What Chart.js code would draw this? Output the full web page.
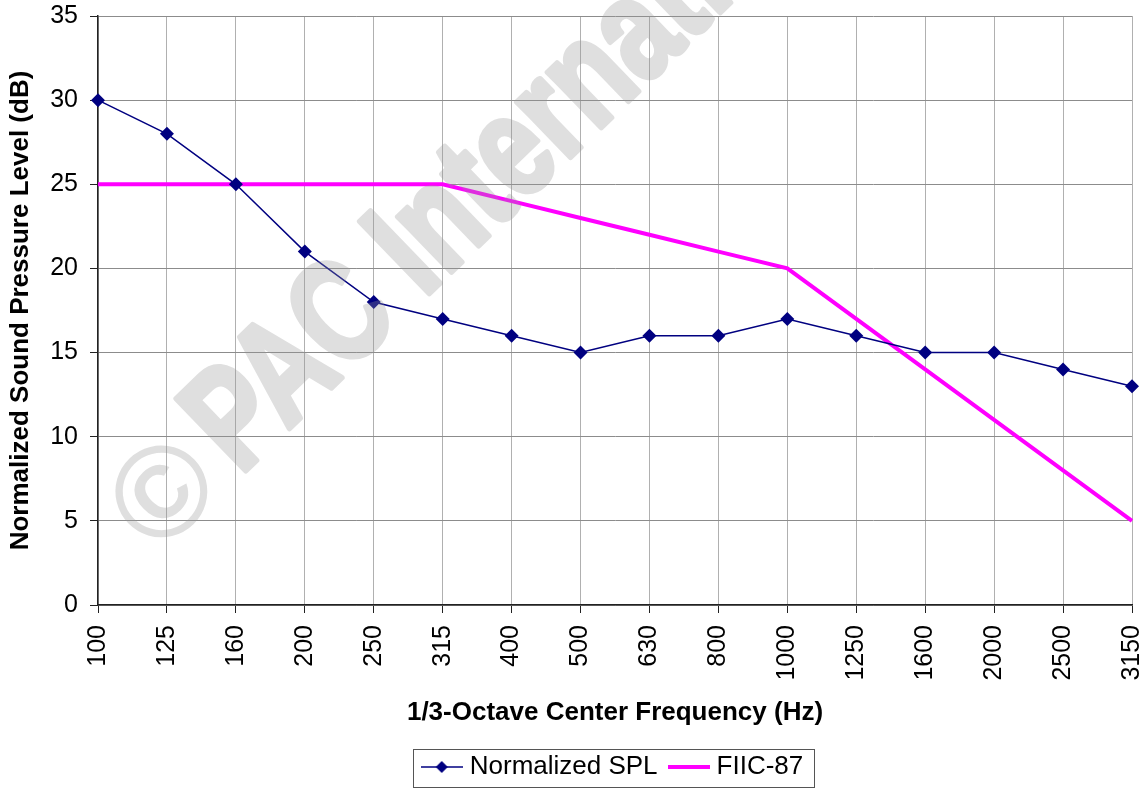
<!DOCTYPE html>
<html>
<head>
<meta charset="utf-8">
<title>Normalized SPL vs FIIC-87</title>
<script src="https://cdn.jsdelivr.net/npm/chart.js@4.4.1/dist/chart.umd.min.js"></script>
<style>
  html, body { margin: 0; padding: 0; background: #fff; }
  #wrap { width: 1146px; height: 789px; }
</style>
</head>
<body>
<div id="wrap"><canvas id="chart" width="1146" height="789"></canvas></div>
<script>
// 1/3-octave band centres and the two series
const frequencies = ["100", "125", "160", "200", "250", "315", "400", "500", "630", "800",
                     "1000", "1250", "1600", "2000", "2500", "3150"];
const normalizedSpl = [30, 28, 25, 21, 18, 17, 16, 15, 16, 16, 17, 16, 15, 15, 14, 13];
const fiic87 = [25, 25, 25, 25, 25, 25, 24, 23, 22, 21, 20, 17, 14, 11, 8, 5];
const yMin = 0, yMax = 35, yStep = 5;

const FONT = '"Liberation Sans", Arial, Helvetica, sans-serif';
const NAVY = "#000080";
const MAGENTA = "#FF00FF";

// little line+marker pictures for the legend
function legendIcon(color, lineWidth, withDiamond) {
  const c = document.createElement("canvas");
  c.width = 42; c.height = 16;
  const g = c.getContext("2d");
  g.strokeStyle = color;
  g.lineWidth = lineWidth;
  g.beginPath();
  g.moveTo(0, 8); g.lineTo(42, 8);
  g.stroke();
  if (withDiamond) {
    g.fillStyle = color;
    g.beginPath();
    g.moveTo(21, 2); g.lineTo(27, 8); g.lineTo(21, 14); g.lineTo(15, 8);
    g.closePath();
    g.fill();
  }
  return c;
}
const legendIcons = [legendIcon(NAVY, 1.5, true), legendIcon(MAGENTA, 4, false)];

/* ---------- faint diagonal watermark (heavy, condensed) ---------- */
function watermarkLayer(w, h) {
  const c = document.createElement("canvas");
  c.width = w; c.height = h;
  const g = c.getContext("2d");
  const angle = -44 * Math.PI / 180;
  g.fillStyle = g.strokeStyle = "rgb(150,150,150)";
  g.lineJoin = "round";
  g.textBaseline = "alphabetic";
  // copyright sign, kept round
  g.save();
  g.translate(158, 557);
  g.rotate(angle);
  g.font = "bold 130px " + FONT;
  g.fillText("\u00A9", 0, 0);
  g.restore();
  // the name, squeezed sideways and thickened
  g.save();
  g.translate(240, 476);
  g.rotate(angle);
  g.scale(0.76, 1);
  g.font = "bold 145px " + FONT;
  g.lineWidth = 6;
  g.strokeText("PAC International", 0, 0);
  g.fillText("PAC International", 0, 0);
  g.restore();
  return c;
}

const watermark = {
  id: "watermark",
  afterDatasetsDraw(chart) {
    if (!this.layer) this.layer = watermarkLayer(chart.width, chart.height);
    const ctx = chart.ctx;
    ctx.save();
    ctx.globalAlpha = 0.3;
    ctx.drawImage(this.layer, 0, 0);
    ctx.restore();
  }
};

/* ---------- box round the legend ---------- */
const legendFrame = {
  id: "legendFrame",
  afterDraw(chart) {
    const lg = chart.legend;
    if (!lg || !lg.legendHitBoxes.length) return;
    const boxes = lg.legendHitBoxes;
    const first = boxes[0], last = boxes[boxes.length - 1];
    const cy = first.top + first.height / 2;
    const ctx = chart.ctx;
    ctx.save();
    ctx.strokeStyle = "#555";
    ctx.lineWidth = 1;
    const left = Math.round(first.left - 14) + 0.5;
    const right = Math.round(last.left + last.width + 11) + 0.5;
    ctx.strokeRect(left, Math.round(cy - 18) + 0.5, right - left, 38);
    ctx.restore();
  }
};

const ctx = document.getElementById("chart");
new Chart(ctx, {
  type: "line",
  data: {
    labels: frequencies,
    datasets: [
      {
        label: "Normalized SPL",
        data: normalizedSpl,
        borderColor: NAVY,
        backgroundColor: NAVY,
        borderWidth: 1.5,
        pointStyle: "rectRot",
        pointRadius: 7,
        pointBorderWidth: 0,
        tension: 0,
        order: 1
      },
      {
        label: "FIIC-87",
        data: fiic87,
        borderColor: MAGENTA,
        backgroundColor: MAGENTA,
        borderWidth: 4,
        pointRadius: 0,
        tension: 0,
        order: 2
      }
    ]
  },
  options: {
    responsive: false,
    animation: false,
    layout: { padding: { top: 16, right: 14, left: 0, bottom: -1 } },
    plugins: {
      tooltip: { enabled: false },
      legend: {
        position: "bottom",
        fullSize: false,
        labels: {
          color: "#000",
          font: { family: FONT, size: 26 },
          usePointStyle: true,
          pointStyleWidth: 30,
          padding: 16,
          generateLabels(chart) {
            const items = Chart.defaults.plugins.legend.labels.generateLabels(chart);
            return items.map((it, i) => Object.assign(it, { pointStyle: legendIcons[i] }));
          }
        }
      }
    },
    scales: {
      x: {
        grid: { color: "#b0b0b0", tickColor: "#222", tickLength: 8, offset: false },
        border: { color: "#222", width: 1.5 },
        ticks: {
          color: "#000",
          font: { family: FONT, size: 25 },
          autoSkip: false,
          minRotation: 90,
          maxRotation: 90,
          padding: 12
        },
        title: {
          display: true,
          text: "1/3-Octave Center Frequency (Hz)",
          color: "#000",
          font: { family: FONT, size: 26, weight: "bold" },
          padding: { top: 0, bottom: 10 }
        },
        afterFit(scale) {
          scale.height = 133;
          scale.paddingLeft = 0;
          scale.paddingRight = 0;
        }
      },
      y: {
        min: yMin,
        max: yMax,
        grid: { color: "#8c8c8c", tickColor: "#222", tickLength: 8 },
        border: { color: "#222", width: 1.5 },
        ticks: {
          stepSize: yStep,
          color: "#000",
          font: { family: FONT, size: 25 },
          padding: 12
        },
        title: {
          display: true,
          text: "Normalized Sound Pressure Level (dB)",
          color: "#000",
          font: { family: FONT, size: 26, weight: "bold" },
          padding: { top: 5, bottom: 0 }
        },
        afterFit(scale) {
          scale.width = 98;
          scale.paddingTop = 0;
          scale.paddingBottom = 0;
        }
      }
    }
  },
  plugins: [watermark, legendFrame]
});
</script>
</body>
</html>
